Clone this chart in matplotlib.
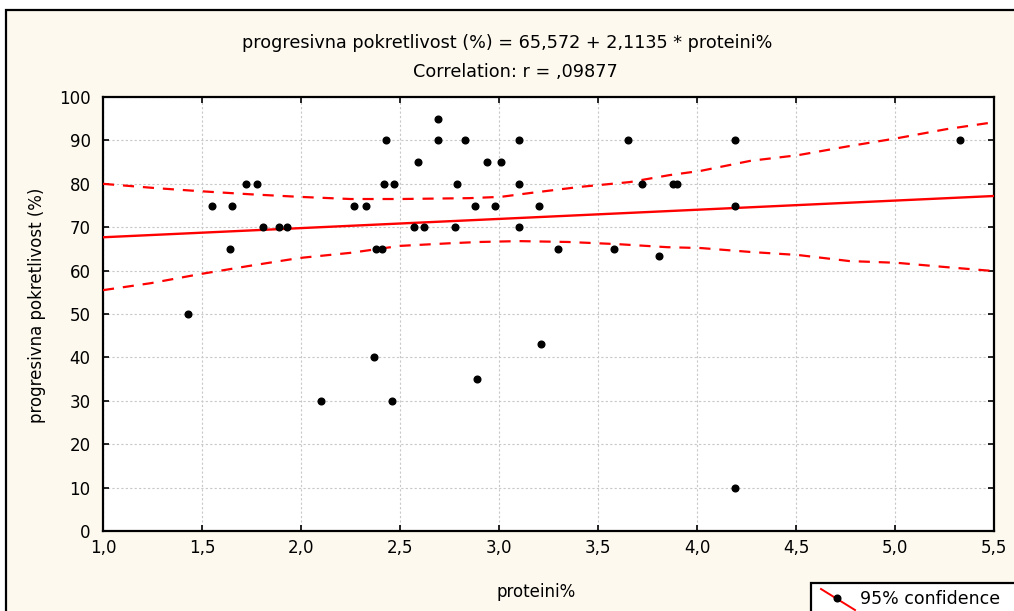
import numpy as np
import matplotlib
matplotlib.use("Agg")
import matplotlib.pyplot as plt
from matplotlib.patches import Rectangle
from matplotlib.lines import Line2D

plt.rcParams['font.family'] = ['DejaVu Sans']

# ---------------------------------------------------------------
# datos
proteini = [1.43, 1.55, 1.64, 1.65, 1.72, 1.78, 1.81, 1.89, 1.93,
            2.10, 2.27, 2.33, 2.37, 2.38, 2.41, 2.42, 2.43, 2.46, 2.47,
            2.57, 2.59, 2.62, 2.69, 2.69, 2.78, 2.79, 2.83, 2.88, 2.89,
            2.94, 2.98, 3.01, 3.10, 3.10, 3.10, 3.20, 3.21, 3.30, 3.58,
            3.65, 3.72, 3.81, 3.88, 3.90, 4.19, 4.19, 4.19, 5.33]
pokretlivost = [50, 75, 65, 75, 80, 80, 70, 70, 70,
                30, 75, 75, 40, 65, 65, 80, 90, 30, 80,
                70, 85, 70, 95, 90, 70, 80, 90, 75, 35,
                85, 75, 85, 90, 80, 70, 75, 43, 65, 65,
                90, 80, 63.4, 80, 80, 90, 75, 10, 90]

intercept = 65.572
slope = 2.1135

# banda de confianza 95%
ci_up_x = [1.00, 1.27, 1.49, 1.74, 1.99, 2.25, 2.50, 2.85, 3.01, 3.16,
           3.41, 3.66, 3.86, 4.02, 4.27, 4.51, 4.77, 5.01, 5.26, 5.50]
ci_up_y = [80.0, 79.0, 78.3, 77.6, 77.0, 76.5, 76.5, 76.7, 77.0, 77.9,
           79.3, 80.4, 82.0, 83.0, 85.3, 86.6, 88.7, 90.5, 92.6, 94.2]
ci_lo_x = [1.00, 1.24, 1.49, 1.74, 1.99, 2.25, 2.50, 2.75, 2.90, 3.10,
           3.35, 3.60, 3.85, 4.02, 4.27, 4.51, 4.77, 5.01, 5.26, 5.50]
ci_lo_y = [55.5, 57.1, 59.2, 61.1, 62.9, 64.1, 65.7, 66.3, 66.6, 66.8,
           66.6, 66.1, 65.4, 65.2, 64.3, 63.6, 62.2, 61.8, 60.8, 59.9]

xticks = [1.0, 1.5, 2.0, 2.5, 3.0, 3.5, 4.0, 4.5, 5.0, 5.5]
xticklabels = ['1,0', '1,5', '2,0', '2,5', '3,0', '3,5', '4,0', '4,5', '5,0', '5,5']
yticks = [0, 10, 20, 30, 40, 50, 60, 70, 80, 90, 100]

# ---------------------------------------------------------------
fig = plt.figure(figsize=(10.14, 6.11), dpi=100, facecolor='white')

# marco de fondo
fig.patches.append(Rectangle((0.006, -0.1), 1.1, 0.9836 + 0.1, transform=fig.transFigure,
                             facecolor='#fdf9ee', edgecolor='black', lw=1.6, zorder=-5))

ax = fig.add_axes([0.1016, 0.1309, 0.8787, 0.7103])
ax.set_facecolor('white')

ax.grid(True, color='#c8c8c8', linestyle=(0, (2, 2)), linewidth=0.8)
ax.set_axisbelow(True)

xl = np.array([1.0, 5.5])
ax.plot(xl, intercept + slope * xl, color='red', lw=1.7, zorder=3)
ax.plot(ci_up_x, ci_up_y, color='red', lw=1.6, linestyle=(0, (5, 4)), zorder=3)
ax.plot(ci_lo_x, ci_lo_y, color='red', lw=1.6, linestyle=(0, (5, 4)), zorder=3)
ax.plot(proteini, pokretlivost, 'o', color='black', ms=4.8, zorder=4)

ax.set_xlim(1.0, 5.5)
ax.set_ylim(0, 100)
ax.set_xticks(xticks)
ax.set_xticklabels(xticklabels)
ax.set_yticks(yticks)
ax.tick_params(direction='in', length=4, width=1.2, labelsize=12,
               top=True, right=True)
ax.tick_params(axis='x', pad=6)
ax.tick_params(axis='y', pad=9)
for s in ax.spines.values():
    s.set_linewidth(1.6)

ax.set_xlabel('proteini%', fontsize=12)
ax.xaxis.set_label_coords(0.486, -0.12)
ax.set_ylabel('progresivna pokretlivost (%)', fontsize=12)
ax.yaxis.set_label_coords(-0.064, 0.52)

fig.text(0.5, 0.930, 'progresivna pokretlivost (%) = 65,572 + 2,1135 * proteini%',
         ha='center', va='center', fontsize=12.7)
fig.text(0.508, 0.882, 'Correlation: r = ,09877', ha='center', va='center', fontsize=12.7)

# leyenda (cortada por el borde)
fig.patches.append(Rectangle((811 / 1014, -0.1), 0.3, 0.1 + (611 - 583) / 611,
                             transform=fig.transFigure, facecolor='white',
                             edgecolor='black', lw=1.6, zorder=5))
fig.lines.append(Line2D([821 / 1014, 855 / 1014], [1 - 589 / 611, 1 - 610 / 611],
                        transform=fig.transFigure, color='red', lw=1.4, zorder=6))
fig.lines.append(Line2D([837 / 1014], [1 - 598 / 611], transform=fig.transFigure,
                        marker='o', color='black', ms=4.8, zorder=7))
fig.text(860 / 1014, 1 - 599 / 611, '95% confidence', ha='left', va='center',
         fontsize=12.5, zorder=8)

fig.savefig('out.png', dpi=100, facecolor=fig.get_facecolor())
